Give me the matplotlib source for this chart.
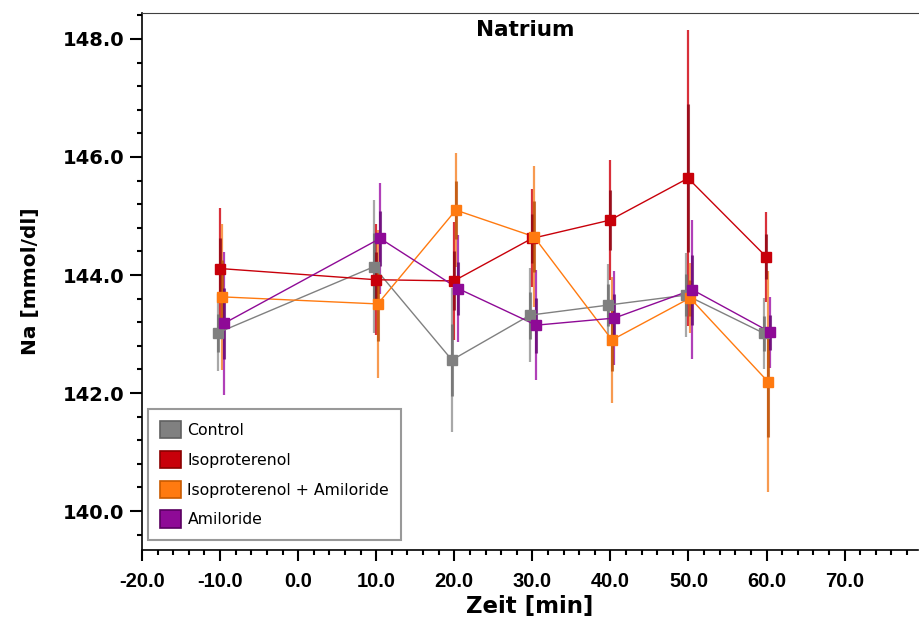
import matplotlib
matplotlib.use("Agg")
import matplotlib.pyplot as plt
from matplotlib.patches import Patch
from matplotlib.ticker import MultipleLocator, FormatStrFormatter
import numpy as np

# ---- data ----
times = [-10, 10, 20, 30, 40, 50, 60]
series_names = ["Control", "Isoproterenol", "Isoproterenol + Amiloride", "Amiloride"]
control_mean = [143.02, 144.14, 142.56, 143.32, 143.49, 143.66, 143.01]
control_sd = [0.65, 1.13, 1.22, 0.80, 0.70, 0.71, 0.60]
iso_mean = [144.11, 143.92, 143.90, 144.62, 144.93, 145.64, 144.31]
iso_sd = [1.03, 0.94, 1.00, 0.83, 1.02, 2.51, 0.76]
isoami_mean = [143.63, 143.51, 145.10, 144.65, 142.90, 143.61, 142.19]
isoami_sd = [1.24, 1.26, 0.97, 1.20, 1.07, 0.60, 1.87]
ami_mean = [143.18, 144.62, 143.77, 143.15, 143.27, 143.75, 143.03]
ami_sd = [1.21, 0.94, 0.90, 0.93, 0.80, 1.18, 0.60]

means = [control_mean, iso_mean, isoami_mean, ami_mean]
sds = [control_sd, iso_sd, isoami_sd, ami_sd]

# ---- styles ----
colors = ["#808080", "#c8000a", "#ff7a10", "#8e0a96"]
err_colors = ["#a8a8a8", "#d8303a", "#f79a50", "#b040b8"]
inner_colors = ["#6a6a6a", "#8a0010", "#b84a00", "#600070"]
edge_colors = ["#606060", "#8a0000", "#c85a00", "#5a0060"]
dodge = [-0.3, -0.05, 0.2, 0.5]

fig = plt.figure(figsize=(9.2, 6.28), dpi=100)
ax = fig.add_axes([142 / 920, 1 - 550 / 628, 776 / 920, 537 / 628])

for m, s, c, ec, ic, d in zip(means, sds, colors, err_colors, inner_colors, dodge):
    xs = np.array(times) + d
    s_arr = np.array(s)
    ax.errorbar(xs, m, yerr=s, fmt="none", ecolor=ec, elinewidth=1.6, capsize=0, zorder=2)
    ax.errorbar(xs, m, yerr=s_arr * 0.5, fmt="none", ecolor=ic, elinewidth=2.2,
                capsize=0, zorder=2.5, alpha=0.75)
    ax.plot(xs, m, color=c, lw=1.0, zorder=3)
    ax.plot(xs, m, ls="none", marker="s", ms=7.5, mfc=c, mec=c, zorder=4)

ax.set_xlim(-20, 79.4)
ax.set_ylim(139.34, 148.44)
ax.xaxis.set_major_locator(MultipleLocator(10))
ax.xaxis.set_minor_locator(MultipleLocator(2))
ax.yaxis.set_major_locator(MultipleLocator(2))
ax.yaxis.set_minor_locator(MultipleLocator(0.4))
ax.xaxis.set_major_formatter(FormatStrFormatter("%.1f"))
ax.yaxis.set_major_formatter(FormatStrFormatter("%.1f"))

ax.tick_params(axis="y", which="major", length=9, width=1.5, direction="out", pad=4)
ax.tick_params(axis="x", which="major", length=8, width=1.5, direction="out", pad=8)
ax.tick_params(axis="both", which="minor", length=3.5, width=1.5, direction="out")
for lab in ax.get_yticklabels():
    lab.set_fontfamily(["DejaVu Sans"])
    lab.set_fontweight("bold")
    lab.set_fontsize(14)
for lab in ax.get_xticklabels():
    lab.set_fontfamily(["Liberation Sans", "DejaVu Sans"])
    lab.set_fontweight("bold")
    lab.set_fontsize(14.5)

ax.spines["right"].set_visible(False)
ax.spines["top"].set_color("#404040")
ax.spines["left"].set_linewidth(1.2)
ax.spines["bottom"].set_linewidth(1.2)

ax.set_xlabel("Zeit [min]", fontsize=16.5, fontweight="bold", labelpad=3,
              family=["DejaVu Sans"])
ax.set_ylabel("Na [mmol/dl]", fontsize=14.5, fontweight="bold", labelpad=16,
              family=["DejaVu Sans"])

ax.text(0.494, 0.968, "Natrium", transform=ax.transAxes, ha="center", va="center",
        fontsize=15.5, fontweight="bold", family=["DejaVu Sans"])

handles = [Patch(facecolor=c, edgecolor=e, linewidth=1.2) for c, e in zip(colors, edge_colors)]
leg = ax.legend(handles, series_names, loc="lower left", bbox_to_anchor=(0.008, 0.019),
                frameon=True, fancybox=False, handlelength=1.35,
                handleheight=1.35, handletextpad=0.4, labelspacing=0.78,
                borderpad=0.75, borderaxespad=0,
                prop={"family": ["DejaVu Sans"], "size": 11.3})
leg.get_frame().set_edgecolor("#808080")
leg.get_frame().set_linewidth(1.5)

fig.savefig("out.png", dpi=100)
